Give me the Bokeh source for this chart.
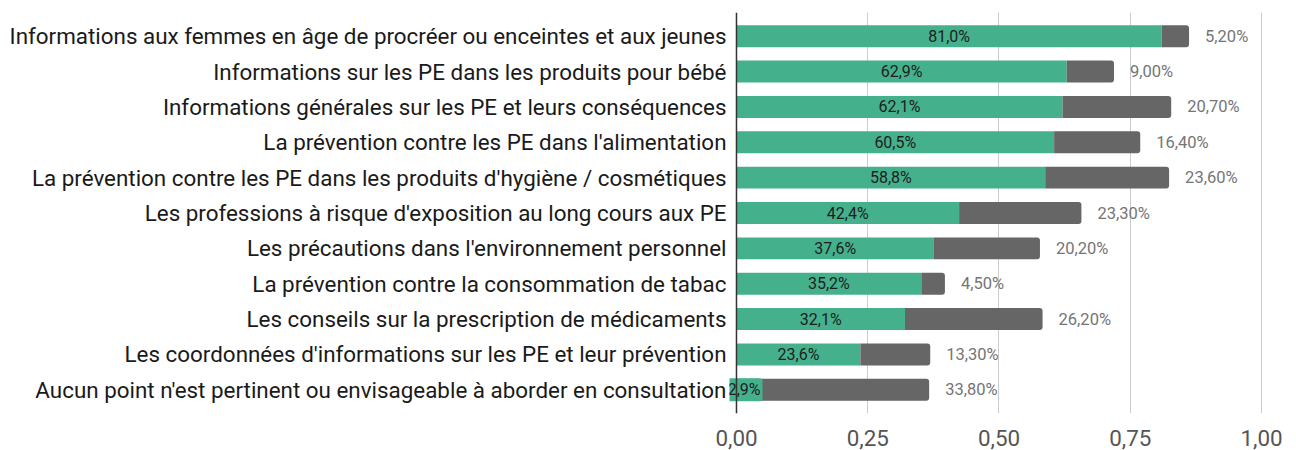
from bokeh.plotting import figure
from bokeh.models import ColumnDataSource, FactorRange, Range1d, FixedTicker, CustomJSTickFormatter, Span
from bokeh.core.properties import value
from bokeh.embed import file_html
from bokeh.resources import INLINE

categories = [
    "Informations aux femmes en âge de procréer ou enceintes et aux jeunes",
    "Informations sur les PE dans les produits pour bébé",
    "Informations générales sur les PE et leurs conséquences",
    "La prévention contre les PE dans l'alimentation",
    "La prévention contre les PE dans les produits d'hygiène / cosmétiques",
    "Les professions à risque d'exposition au long cours aux PE",
    "Les précautions dans l'environnement personnel",
    "La prévention contre la consommation de tabac",
    "Les conseils sur la prescription de médicaments",
    "Les coordonnées d'informations sur les PE et leur prévention",
    "Aucun point n'est pertinent ou envisageable à aborder en consultation",
]
green_pct = [81.0, 62.9, 62.1, 60.5, 58.8, 42.4, 37.6, 35.2, 32.1, 23.6, 2.9]
grey_pct = [5.20, 9.00, 20.70, 16.40, 23.60, 23.30, 20.20, 4.50, 26.20, 13.30, 33.80]
x_ticks = [0, 0.25, 0.5, 0.75, 1.0]
x_tick_labels = ["0,00", "0,25", "0,50", "0,75", "1,00"]

GREEN = "#45b08c"
GREY = "#666666"
FONT = "Roboto"

g = [v / 100 for v in green_pct]
t = [(a + b) / 100 for a, b in zip(green_pct, grey_pct)]
src = ColumnDataSource(dict(
    cat=categories,
    g=g,
    g_mid=[v / 2 for v in g],
    t=t,
    g_label=[f"{v:.1f}".replace(".", ",") + "%" for v in green_pct],
    grey_label=[f"{v:.2f}".replace(".", ",") + "%" for v in grey_pct],
    # label background only where the label is wider than its bar
    bg_alpha=[1.0 if v < 8 else 0.0 for v in green_pct],
))

p = figure(
    y_range=FactorRange(factors=list(reversed(categories)), range_padding=0.17,
                        range_padding_units="absolute"),
    x_range=Range1d(-0.0133, 1.0514),
    output_backend="svg", toolbar_location=None,
    min_border_left=729, min_border_right=0, min_border_top=12, min_border_bottom=37,
)
p.frame_width = 559
p.frame_height = 401

p.hbar(y="cat", left=0, right="g", height=0.62, source=src,
       fill_color=GREEN, line_color=None)
p.hbar(y="cat", left="g", right="t", height=0.62, source=src,
       fill_color=GREY, line_color=None, border_radius=(0, 3, 3, 0))

p.add_layout(Span(location=0, dimension="height", line_color="#333333", line_width=1.5))

p.text(x="g_mid", y="cat", text="g_label", source=src,
       text_align="center", text_baseline="middle",
       text_font=value(FONT), text_font_size="16px", text_color="#1e1e1e",
       background_fill_color=GREEN, background_fill_alpha="bg_alpha",
       padding=2, border_radius=3)
p.text(x="t", y="cat", text="grey_label", source=src, x_offset=16,
       text_align="left", text_baseline="middle",
       text_font=value(FONT), text_font_size="16.5px", text_color="#757575")

p.outline_line_color = None
p.background_fill_color = "white"
p.border_fill_color = "white"

p.ygrid.grid_line_color = None
p.xgrid.ticker = FixedTicker(ticks=[v for v in x_ticks if v > 0])
p.xgrid.grid_line_color = "#cccccc"
p.xgrid.grid_line_width = 1

p.xaxis.ticker = FixedTicker(ticks=x_ticks)
p.xaxis.formatter = CustomJSTickFormatter(
    args=dict(tick_values=x_ticks, tick_labels=x_tick_labels),
    code="const i = tick_values.findIndex(v => Math.abs(v - tick) < 1e-9); return i >= 0 ? tick_labels[i] : '';")
p.xaxis.axis_line_color = None
p.xaxis.major_tick_line_color = None
p.xaxis.minor_tick_line_color = None
p.xaxis.major_tick_out = 0
p.xaxis.major_tick_in = 0
p.xaxis.minor_tick_out = 0
p.xaxis.major_label_standoff = 16
p.xaxis.major_label_text_font = FONT
p.xaxis.major_label_text_font_size = "22.4px"
p.xaxis.major_label_text_color = "#555555"

p.yaxis.axis_line_color = None
p.yaxis.major_tick_line_color = None
p.yaxis.minor_tick_line_color = None
p.yaxis.major_tick_out = 0
p.yaxis.major_tick_in = 0
p.yaxis.minor_tick_out = 0
p.yaxis.major_label_standoff = 3
p.yaxis.major_label_text_font = FONT
p.yaxis.major_label_text_font_size = "22.4px"
p.yaxis.major_label_text_color = "#1a1a1a"

open("out.html", "w").write(file_html(p, INLINE))
